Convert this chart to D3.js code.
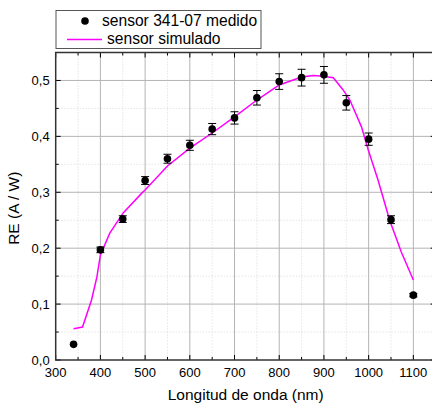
<!DOCTYPE html>
<meta charset="utf-8">
<style>
body { margin: 0; background: #fff; }
text { font-family: "Liberation Sans", Arial, sans-serif; fill: #000; }
</style>
<body>
<script src="https://d3js.org/d3.v7.min.js"></script>
<script>

// measured points (wavelength nm, RE A/W, error)
var medWl  = [340, 400, 450, 500, 550, 600, 650, 700, 750, 800, 850, 900, 950, 1000, 1050, 1100];
var medRe  = [0.028, 0.197, 0.252, 0.321, 0.360, 0.384, 0.413, 0.433, 0.469, 0.498, 0.505, 0.510, 0.460, 0.395, 0.251, 0.116];
var medErr = [0, 0.005, 0.006, 0.007, 0.008, 0.009, 0.010, 0.011, 0.013, 0.014, 0.015, 0.015, 0.013, 0.011, 0.007, 0.003];

// simulated curve
var simWl = [340, 360, 380, 392, 400, 421, 451, 492, 500, 550, 600, 650, 700, 750, 800, 850, 876, 891, 921, 943, 958, 984, 999, 1021, 1047, 1073, 1100];
var simRe = [0.056, 0.059, 0.107, 0.148, 0.188, 0.227, 0.263, 0.298, 0.304, 0.347, 0.379, 0.406, 0.435, 0.465, 0.492, 0.506, 0.509, 0.508, 0.505, 0.483, 0.465, 0.417, 0.376, 0.322, 0.250, 0.193, 0.143];

var xTicks = [300, 400, 500, 600, 700, 800, 900, 1000, 1100];
var yTicks = [0, 0.1, 0.2, 0.3, 0.4, 0.5];

var W = 432, H = 409;
var margin = {top: 52.5, left: 55.7, bottom: 49};
var plotW = 380, plotH = H - margin.top - margin.bottom;

var x = d3.scaleLinear().domain([300, 1150]).range([0, plotW]);
var y = d3.scaleLinear().domain([0, 0.55]).range([plotH, 0]);

var svg = d3.select("body").append("svg")
    .attr("width", W).attr("height", H);

var g = svg.append("g")
    .attr("transform", "translate(" + margin.left + "," + margin.top + ")");

var fmt = function(d) { return d3.format(".1f")(d).replace(".", ","); };

// minor grid (dotted)
var xMinor = d3.range(350, 1150, 100);
var yMinor = d3.range(0.05, 0.55, 0.1);
g.selectAll(".gxm").data(xMinor).enter().append("line")
    .attr("x1", d => x(d)).attr("x2", d => x(d))
    .attr("y1", 0).attr("y2", plotH)
    .attr("stroke", "#d8d8d8").attr("stroke-dasharray", "1,2");
g.selectAll(".gym").data(yMinor).enter().append("line")
    .attr("y1", d => y(d)).attr("y2", d => y(d))
    .attr("x1", 0).attr("x2", plotW)
    .attr("stroke", "#d8d8d8").attr("stroke-dasharray", "1,2");

// major grid
g.selectAll(".gx").data(xTicks.slice(1)).enter().append("line")
    .attr("x1", d => x(d)).attr("x2", d => x(d))
    .attr("y1", 0).attr("y2", plotH)
    .attr("stroke", "#b4b4b4").attr("stroke-width", 1);
g.selectAll(".gy").data(yTicks.slice(1)).enter().append("line")
    .attr("y1", d => y(d)).attr("y2", d => y(d))
    .attr("x1", 0).attr("x2", plotW)
    .attr("stroke", "#b4b4b4").attr("stroke-width", 1);

// simulated line
var line = d3.line().x((d, i) => x(simWl[i])).y(d => y(d));
g.append("path")
    .datum(simRe)
    .attr("d", line)
    .attr("fill", "none")
    .attr("stroke", "#ff00ff")
    .attr("stroke-width", 1.5);

// error bars
var cap = 4;
medRe.forEach(function(d, j) {
  if (!medErr[j]) return;
  var s = g.append("g").attr("stroke", "#000").attr("stroke-width", 1);
  var cx = x(medWl[j]);
  var y1 = y(d - medErr[j]), y2 = y(d + medErr[j]);
  s.append("line").attr("x1", cx).attr("x2", cx).attr("y1", y1).attr("y2", y2);
  s.append("line").attr("x1", cx - cap).attr("x2", cx + cap).attr("y1", y1).attr("y2", y1);
  s.append("line").attr("x1", cx - cap).attr("x2", cx + cap).attr("y1", y2).attr("y2", y2);
});

// points
g.selectAll(".pt").data(medRe).enter().append("circle")
    .attr("cx", (d, i) => x(medWl[i]))
    .attr("cy", d => y(d))
    .attr("r", 3.8)
    .attr("fill", "#000");

// axes with inward ticks on all sides
var xAll = d3.range(300, 1151, 50);
var yAll = d3.range(0, 0.551, 0.05);
function tickLen(isMajor) { return isMajor ? 5 : 3; }
var axG = g.append("g").attr("stroke", "#000").attr("stroke-width", 1);
xAll.forEach(function(v) {
  var maj = v % 100 === 0, L = tickLen(maj);
  axG.append("line").attr("x1", x(v)).attr("x2", x(v)).attr("y1", plotH).attr("y2", plotH - L);
  axG.append("line").attr("x1", x(v)).attr("x2", x(v)).attr("y1", 0).attr("y2", L);
});
yAll.forEach(function(v) {
  var maj = Math.abs(v * 10 - Math.round(v * 10)) < 1e-6, L = tickLen(maj);
  axG.append("line").attr("y1", y(v)).attr("y2", y(v)).attr("x1", 0).attr("x2", L);
  axG.append("line").attr("y1", y(v)).attr("y2", y(v)).attr("x1", plotW).attr("x2", plotW - L);
});

g.append("rect")
    .attr("x", 0).attr("y", 0).attr("width", plotW).attr("height", plotH)
    .attr("fill", "none").attr("stroke", "#333").attr("stroke-width", 1.5);

// tick labels
g.selectAll(".xl").data(xTicks).enter().append("text")
    .attr("x", d => x(d)).attr("y", plotH + 17)
    .attr("text-anchor", "middle").style("font-size", "13px")
    .text(d => d);
g.selectAll(".yl").data(yTicks).enter().append("text")
    .attr("x", -6).attr("y", d => y(d) + 4.5)
    .attr("text-anchor", "end").style("font-size", "13px")
    .text(fmt);

// axis titles
g.append("text")
    .attr("x", x(725)).attr("y", plotH + 40)
    .attr("text-anchor", "middle").style("font-size", "15.5px")
    .text("Longitud de onda (nm)");
g.append("text")
    .attr("transform", "translate(-37," + (plotH / 2 + 2) + ") rotate(-90)")
    .attr("text-anchor", "middle").style("font-size", "15.5px")
    .text("RE (A / W)");

// legend
var lg = svg.append("g");
lg.append("rect")
    .attr("x", 56).attr("y", 10.5).attr("width", 205).attr("height", 38)
    .attr("fill", "#fff").attr("stroke", "#555").attr("stroke-width", 1);
lg.append("circle").attr("cx", 85).attr("cy", 21).attr("r", 3.8).attr("fill", "#000");
lg.append("text").attr("x", 102).attr("y", 26).style("font-size", "15.6px").text("sensor 341-07 medido");
lg.append("line").attr("x1", 67).attr("x2", 102).attr("y1", 39.5).attr("y2", 39.5)
    .attr("stroke", "#ff00ff").attr("stroke-width", 1.5);
lg.append("text").attr("x", 107).attr("y", 44).style("font-size", "15.6px").text("sensor simulado");

</script>
</body>
